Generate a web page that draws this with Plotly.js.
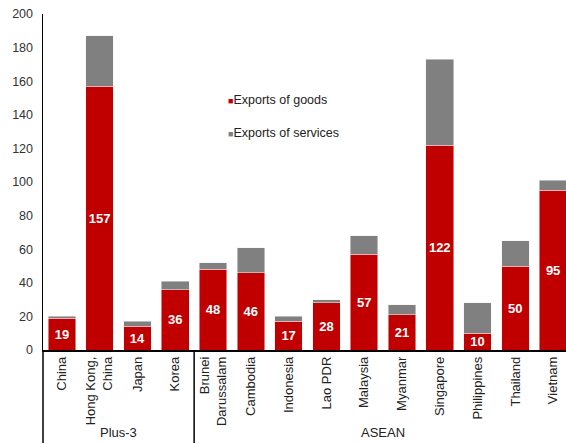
<!DOCTYPE html>
<html>
<head>
<meta charset="utf-8">
<script src="https://cdn.plot.ly/plotly-3.0.1.min.js"></script>
<style>
html,body{margin:0;padding:0;overflow:hidden;background:#fff;}
#chart{width:572px;height:443px;}
</style>
</head>
<body>
<div id="chart"></div>
<script>
var categories = ["China","Hong Kong,<br>China","Japan","Korea","Brunei<br>Darussalam","Cambodia","Indonesia","Lao PDR","Malaysia","Myanmar","Singapore","Philippines","Thailand","Vietnam"];
var goods = [19,157,14,36,48,46,17,28,57,21,122,10,50,95];
var services = [1,30,3,5,4,15,3,2,11,6,51,18,15,6];
var groupNames = ["Plus-3","ASEAN"];
var groupStart = [0,4];
var groupEnd = [3,13];
var yTicks = [0,20,40,60,80,100,120,140,160,180,200];

var idx = categories.map(function(_,i){return i;});

var traces = [
  {type:'bar', x:idx, y:goods, name:'Exports of goods',
   marker:{color:'#C00000', line:{color:'#f2f2f2', width:0.5}},
   text:goods.map(String), textposition:'inside', insidetextanchor:'middle',
   textangle:0, constraintext:'none',
   textfont:{family:'Arial, Liberation Sans, sans-serif', size:13, color:'#ffffff', weight:'bold'},
   hoverinfo:'skip'},
  {type:'bar', x:idx, y:services, name:'Exports of services',
   marker:{color:'#808080', line:{color:'#f2f2f2', width:0.5}},
   hoverinfo:'skip'}
];

var shapes = [
  {type:'line', xref:'paper', yref:'paper', x0:0, x1:0, y0:-0.28, y1:0, line:{color:'#000', width:1.5}}
];
var annotations = [];
for (var g=0; g<groupNames.length; g++){
  if (g>0){
    shapes.push({type:'line', xref:'x', yref:'paper', x0:groupStart[g]-0.5, x1:groupStart[g]-0.5, y0:-0.28, y1:0, line:{color:'#000', width:1.5}});
  }
  annotations.push({xref:'x', yref:'paper', x:(groupStart[g]+groupEnd[g])/2, y:-0.245, text:groupNames[g], showarrow:false, xanchor:'center', yanchor:'middle',
    font:{family:'Arial, Liberation Sans, sans-serif', size:13, color:'#222'}});
}
annotations.push({xref:'paper', yref:'paper', x:0.345, y:0.745, xanchor:'left', yanchor:'middle', showarrow:false,
  text:'<span style="color:#C00000;font-size:9px">■</span>Exports of goods',
  font:{family:'Arial, Liberation Sans, sans-serif', size:12.5, color:'#222'}});
annotations.push({xref:'paper', yref:'paper', x:0.345, y:0.645, xanchor:'left', yanchor:'middle', showarrow:false,
  text:'<span style="color:#808080;font-size:9px">■</span>Exports of services',
  font:{family:'Arial, Liberation Sans, sans-serif', size:12.5, color:'#222'}});

var layout = {
  width:572, height:443,
  margin:{l:43, r:0, t:14, b:93, pad:0},
  barmode:'stack', bargap:0.27,
  showlegend:false,
  paper_bgcolor:'#fff', plot_bgcolor:'#fff',
  font:{family:'Arial, Liberation Sans, sans-serif', size:12, color:'#222'},
  xaxis:{tickmode:'array', tickvals:idx, ticktext:categories, tickangle:-90,
    range:[-0.5,13.5], showgrid:false, zeroline:false, showline:true, linecolor:'#000', linewidth:1.5,
    ticks:'', tickfont:{size:13, color:'#222'}, fixedrange:true},
  yaxis:{range:[0,200], tickmode:'array', tickvals:yTicks, showgrid:false, zeroline:false,
    showline:true, linecolor:'#000', linewidth:1.5, ticks:'', ticklabelstandoff:6,
    tickfont:{size:12.5, color:'#333'}, fixedrange:true},
  shapes:shapes, annotations:annotations
};
Plotly.newPlot('chart', traces, layout, {displayModeBar:false, staticPlot:true});
</script>
</body>
</html>
